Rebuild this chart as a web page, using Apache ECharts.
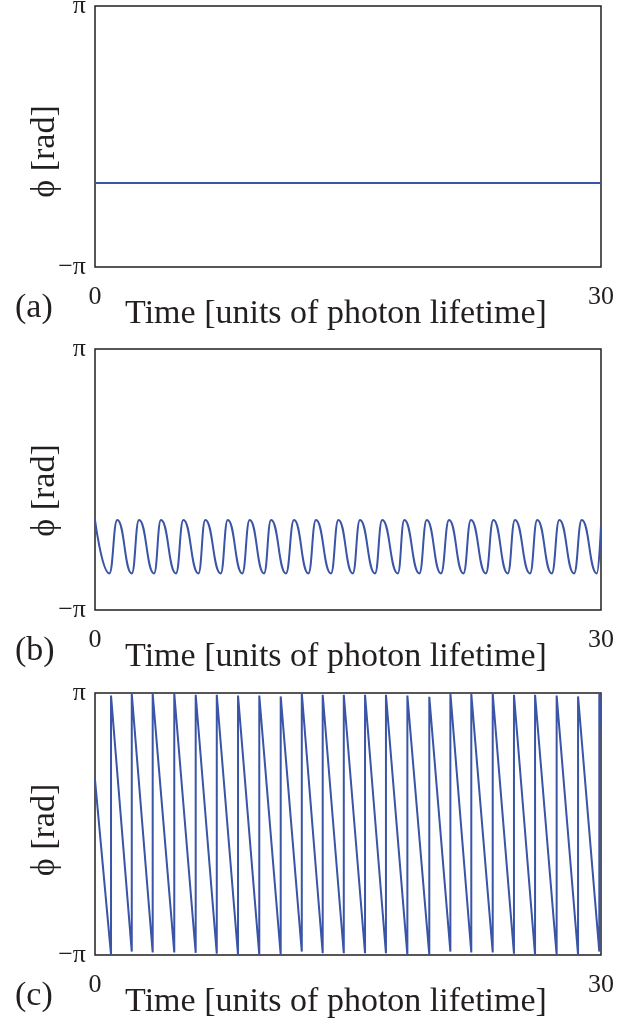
<!DOCTYPE html>
<html>
<head>
<meta charset="utf-8">
<script src="https://cdn.jsdelivr.net/npm/echarts@6/dist/echarts.min.js"></script>
<style>
  html, body { margin: 0; padding: 0; background: #fff; }
  #chart { width: 637px; height: 1021px; }
</style>
</head>
<body>
<div id="chart"></div>
<script>
// phase values in rad, time in photon lifetimes
const xTicks = [0, 30];
const panelNames = ['(a)', '(b)', '(c)'];

// (a) constant phase
const aTime = [0, 30];
const aPhase = [-1.12, -1.12];

// (b) oscillation: troughs and peaks
const bStart = [0, -0.98];
const bEnd = [30, -1.11];
const bTroughTime = [0.85, 2.18, 3.50, 4.80, 6.13, 7.45, 8.73, 10.02, 11.32, 12.65, 13.99, 15.28,
  16.60, 17.95, 19.23, 20.51, 21.84, 23.17, 24.47, 25.79, 27.08, 28.40, 29.75];
const bPeakTime = [1.32, 2.61, 3.91, 5.24, 6.54, 7.87, 9.17, 10.44, 11.80, 13.10, 14.43,
  15.71, 17.03, 18.34, 19.67, 20.99, 22.29, 23.62, 24.90, 26.22, 27.53, 28.86];
const bTroughPhase = -2.26;
const bPeakPhase = -0.975;

// (c) running phase: wrap times, phase just before (bottom) and after (top) each wrap
const cStart = [0, 1.06];
const cEnd = [30, 2.4];
const cJumpTime = [0.95, 2.18, 3.42, 4.70, 5.97, 7.22, 8.48, 9.74, 11.01, 12.26, 13.50, 14.75,
  16.01, 17.25, 18.52, 19.82, 21.07, 22.31, 23.58, 24.84, 26.09, 27.37, 28.64, 29.90];
const cTop = [3.08, 3.12, 3.12, 3.12, 3.10, 3.10, 3.08, 3.08, 3.06, 3.14, 3.10, 3.10,
  3.10, 3.10, 3.08, 3.05, 3.14, 3.12, 3.12, 3.10, 3.10, 3.08, 3.06, 3.14];
const cBottom = [-3.14, -3.06, -3.08, -3.08, -3.09, -3.11, -3.14, -3.14, -3.14, -3.06, -3.10, -3.10,
  -3.10, -3.10, -3.14, -3.14, -3.06, -3.08, -3.08, -3.11, -3.14, -3.14, -3.14, -3.06];

let aData = aTime.map((t, i) => [t, aPhase[i]]);

let bData = [bStart];
for (let i = 0; i < bTroughTime.length; i++) {
  bData.push([bTroughTime[i], bTroughPhase]);
  if (i < bPeakTime.length) bData.push([bPeakTime[i], bPeakPhase]);
}
bData.push(bEnd);

let cData = [cStart];
for (let i = 0; i < cJumpTime.length; i++) {
  cData.push([cJumpTime[i], cBottom[i]]);
  cData.push([cJumpTime[i], cTop[i]]);
}
cData.push(cEnd);

const serif = 'Liberation Serif';
const grids = [
  { left: 95, top: 6, width: 506, height: 261 },
  { left: 95, top: 349, width: 506, height: 261 },
  { left: 95, top: 693, width: 506, height: 262 }
];
const yNameShift = [30, 22, 12];

let myChart = echarts.init(document.getElementById('chart'), null, { renderer: 'canvas' });

let option = {
  backgroundColor: '#fff',
  animation: false,
  grid: grids.map(g => Object.assign({
    show: true, borderColor: '#231f20', borderWidth: 1.5,
    containLabel: false, outerBoundsMode: 'none'
  }, g)),
  xAxis: grids.map((g, i) => ({
    type: 'value',
    gridIndex: i,
    min: 0,
    max: 30,
    interval: 30,
    name: 'Time [units of photon lifetime]',
    nameLocation: 'middle',
    nameGap: 30,
    nameMoveOverlap: false,
    nameTextStyle: { fontFamily: serif, fontSize: 34, color: '#231f20', padding: [0, 24, 0, 0] },
    axisLine: { show: false },
    axisTick: { show: false },
    splitLine: { show: false },
    axisLabel: {
      margin: 17,
      fontFamily: serif,
      fontSize: 26,
      color: '#231f20',
      customValues: xTicks
    }
  })),
  yAxis: grids.map((g, i) => ({
    type: 'value',
    gridIndex: i,
    min: -Math.PI,
    max: Math.PI,
    name: 'ϕ [rad]',
    nameLocation: 'middle',
    nameGap: 33,
    nameMoveOverlap: false,
    nameTextStyle: { fontFamily: serif, fontSize: 34, color: '#231f20', padding: [0, yNameShift[i], 0, 0] },
    axisLine: { show: false },
    axisTick: { show: false },
    splitLine: { show: false },
    axisLabel: {
      margin: 9,
      fontFamily: serif,
      fontSize: 26,
      color: '#231f20',
      customValues: [-Math.PI, Math.PI],
      formatter: v => (v < 0 ? '−π' : 'π')
    }
  })),
  series: [
    { type: 'line', xAxisIndex: 0, yAxisIndex: 0, data: aData, showSymbol: false,
      lineStyle: { color: '#3a54a6', width: 2 } },
    { type: 'line', xAxisIndex: 1, yAxisIndex: 1, data: bData, showSymbol: false,
      smooth: 0.5, smoothMonotone: 'x',
      lineStyle: { color: '#3a54a6', width: 2 } },
    { type: 'line', xAxisIndex: 2, yAxisIndex: 2, data: cData, showSymbol: false,
      lineStyle: { color: '#3a54a6', width: 2 } }
  ],
  graphic: grids.map((g, i) => ({
    type: 'text',
    left: 15,
    top: g.top + g.height + 24,
    style: { text: panelNames[i], font: '34px "' + serif + '"', fill: '#231f20' }
  }))
};

myChart.setOption(option);
</script>
</body>
</html>
